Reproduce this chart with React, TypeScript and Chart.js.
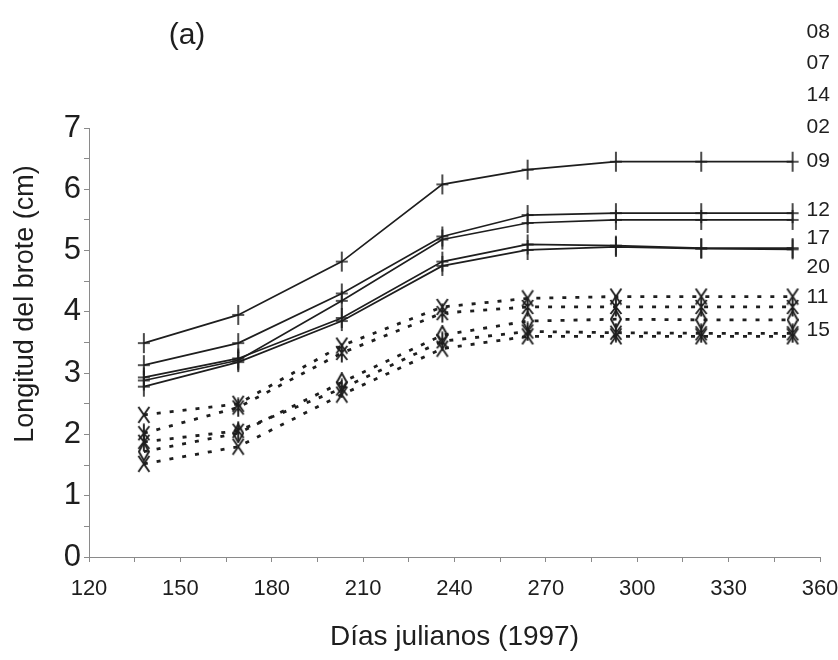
import React, { useEffect, useRef } from "react";
import { Chart, registerables } from "chart.js";

Chart.register(...registerables);

// ---- data ----
const days = [138, 169, 203, 236, 264, 293, 321, 351];

const solid1 = [3.49, 3.95, 4.82, 6.08, 6.32, 6.45, 6.45, 6.45];
const solid2 = [3.13, 3.49, 4.3, 5.23, 5.58, 5.61, 5.61, 5.61];
const solid3 = [2.88, 3.21, 4.18, 5.18, 5.45, 5.5, 5.5, 5.5];
const solid4 = [2.93, 3.24, 3.9, 4.82, 5.1, 5.08, 5.04, 5.04];
const solid5 = [2.78, 3.18, 3.85, 4.75, 5.01, 5.06, 5.03, 5.02];

const dot1 = [2.32, 2.5, 3.45, 4.08, 4.22, 4.25, 4.25, 4.25];
const dot2 = [2.02, 2.44, 3.33, 3.98, 4.08, 4.08, 4.08, 4.08];
const dot3 = [1.72, 2.02, 2.85, 3.62, 3.85, 3.88, 3.87, 3.87];
const dot4 = [1.88, 2.06, 2.75, 3.52, 3.68, 3.66, 3.65, 3.65];
const dot5 = [1.52, 1.8, 2.65, 3.4, 3.6, 3.6, 3.6, 3.6];

const seriesLabels = ["08", "07", "14", "02", "09", "12", "17", "20", "11", "15"];
const labelLevels = [8.56, 8.06, 7.54, 7.01, 6.46, 5.66, 5.2, 4.73, 4.24, 3.7];

const xTicks = [120, 150, 180, 210, 240, 270, 300, 330, 360];
const yTicks = [0, 1, 2, 3, 4, 5, 6, 7];

const yTitle = "Longitud del brote (cm)";
const xTitle = "Días julianos (1997)";
const panelTitle = "(a)";

const FONT = '"Liberation Sans", Arial, Helvetica, sans-serif';
const INK = "#1e1e1e";

function makeMarker(kind: string): HTMLCanvasElement {
  const c = document.createElement("canvas");
  let w = 14, h = 20;
  if (kind === "plus") { w = 14; h = 22; }
  if (kind === "diamond") { w = 12; h = 20; }
  if (kind === "x") { w = 14; h = 18; }
  c.width = w; c.height = h;
  const g = c.getContext("2d")!;
  g.strokeStyle = INK;
  g.lineWidth = kind === "plus" ? 1.6 : 1.9;
  g.beginPath();
  if (kind === "plus") {
    g.moveTo(w / 2, 1); g.lineTo(w / 2, h - 1);
    g.moveTo(1, h / 2); g.lineTo(w - 1, h / 2);
  } else if (kind === "star") {
    g.moveTo(w / 2, 0.5); g.lineTo(w / 2, h - 0.5);
    g.moveTo(1.5, 3); g.lineTo(w - 1.5, h - 3);
    g.moveTo(w - 1.5, 3); g.lineTo(1.5, h - 3);
  } else if (kind === "x") {
    g.moveTo(1.5, 1); g.lineTo(w - 1.5, h - 1);
    g.moveTo(w - 1.5, 1); g.lineTo(1.5, h - 1);
  } else if (kind === "diamond") {
    g.moveTo(w / 2, 1); g.lineTo(w - 1, h / 2); g.lineTo(w / 2, h - 1); g.lineTo(1, h / 2); g.closePath();
  }
  g.stroke();
  return c;
}

const textPlugin = {
  id: "figureTexts",
  afterDraw(chart: any) {
    const ctx = chart.ctx;
    const xs = chart.scales.x;
    const ys = chart.scales.y;
    ctx.save();
    ctx.fillStyle = INK;
    // series labels at right
    ctx.font = `21px ${FONT}`;
    ctx.textAlign = "left";
    ctx.textBaseline = "middle";
    const lx = xs.getPixelForValue(days[days.length - 1]) + 14;
    seriesLabels.forEach((t, i) => ctx.fillText(t, lx, ys.getPixelForValue(labelLevels[i])));
    // y title
    ctx.save();
    ctx.translate(26, 304);
    ctx.rotate(-Math.PI / 2);
    ctx.textAlign = "center";
    ctx.font = `27px ${FONT}`;
    ctx.fillText(yTitle, 0, 0);
    ctx.restore();
    // x title
    ctx.font = `28px ${FONT}`;
    ctx.textAlign = "center";
    ctx.fillText(xTitle, (xs.left + xs.right) / 2, 637);
    // panel letter
    ctx.font = `30px ${FONT}`;
    ctx.fillText(panelTitle, 187, 36);
    ctx.restore();
  },
};

export default function App() {
  const ref = useRef<HTMLCanvasElement>(null);

  useEffect(() => {
    const plus = makeMarker("plus");
    const star = makeMarker("star");
    const xm = makeMarker("x");
    const dia = makeMarker("diamond");

    const solidDs = (data: number[]) => ({
      data: days.map((d, i) => ({ x: d, y: data[i] })),
      borderColor: INK,
      borderWidth: 1.7,
      pointStyle: plus,
      pointRadius: 6,
      fill: false,
      tension: 0,
    });
    const dotDs = (data: number[], style: HTMLCanvasElement) => ({
      data: days.map((d, i) => ({ x: d, y: data[i] })),
      borderColor: INK,
      borderWidth: 2.8,
      borderDash: [4, 9],
      pointStyle: style,
      pointRadius: 6,
      fill: false,
      tension: 0,
    });

    const chart = new Chart(ref.current!, {
      type: "line",
      data: {
        datasets: [
          solidDs(solid1),
          solidDs(solid2),
          solidDs(solid3),
          solidDs(solid4),
          solidDs(solid5),
          dotDs(dot1, xm),
          dotDs(dot2, star),
          dotDs(dot3, dia),
          dotDs(dot4, star),
          dotDs(dot5, xm),
        ] as any,
      },
      options: {
        animation: false,
        responsive: false,
        clip: false as any,
        events: [],
        layout: { padding: { left: 0, top: 128, right: 18, bottom: 0 } },
        plugins: { legend: { display: false }, tooltip: { enabled: false } },
        scales: {
          x: {
            type: "linear",
            min: xTicks[0],
            max: xTicks[xTicks.length - 1],
            border: { color: "#8a8a8a", width: 1 },
            grid: { drawOnChartArea: false, tickLength: 5, color: "#8a8a8a" },
            ticks: {
              stepSize: 15,
              autoSkip: false,
              maxRotation: 0,
              padding: 14,
              color: INK,
              font: { size: 22, family: FONT },
              callback: (v: any) => (xTicks.includes(Number(v)) ? String(v) : ""),
            },
            afterFit: (s: any) => {
              s.height = 103;
              s.paddingLeft = 0;
              s.paddingRight = 0;
            },
          },
          y: {
            min: yTicks[0],
            max: yTicks[yTicks.length - 1],
            border: { color: "#8a8a8a", width: 1 },
            grid: { drawOnChartArea: false, tickLength: 5, color: "#8a8a8a" },
            ticks: {
              stepSize: 0.5,
              autoSkip: false,
              padding: 3,
              color: INK,
              font: { size: 31, family: FONT },
              callback: (v: any) => (yTicks.includes(Number(v)) ? String(v) : ""),
            },
            afterFit: (s: any) => {
              s.width = 89;
              s.paddingTop = 0;
              s.paddingBottom = 0;
            },
          },
        },
      },
      plugins: [textPlugin],
    });
    return () => chart.destroy();
  }, []);

  return (
    <div style={{ position: "absolute", left: 0, top: 0, width: 838, height: 660, background: "#fff" }}>
      <canvas ref={ref} width={838} height={660} style={{ display: "block" }} />
    </div>
  );
}
